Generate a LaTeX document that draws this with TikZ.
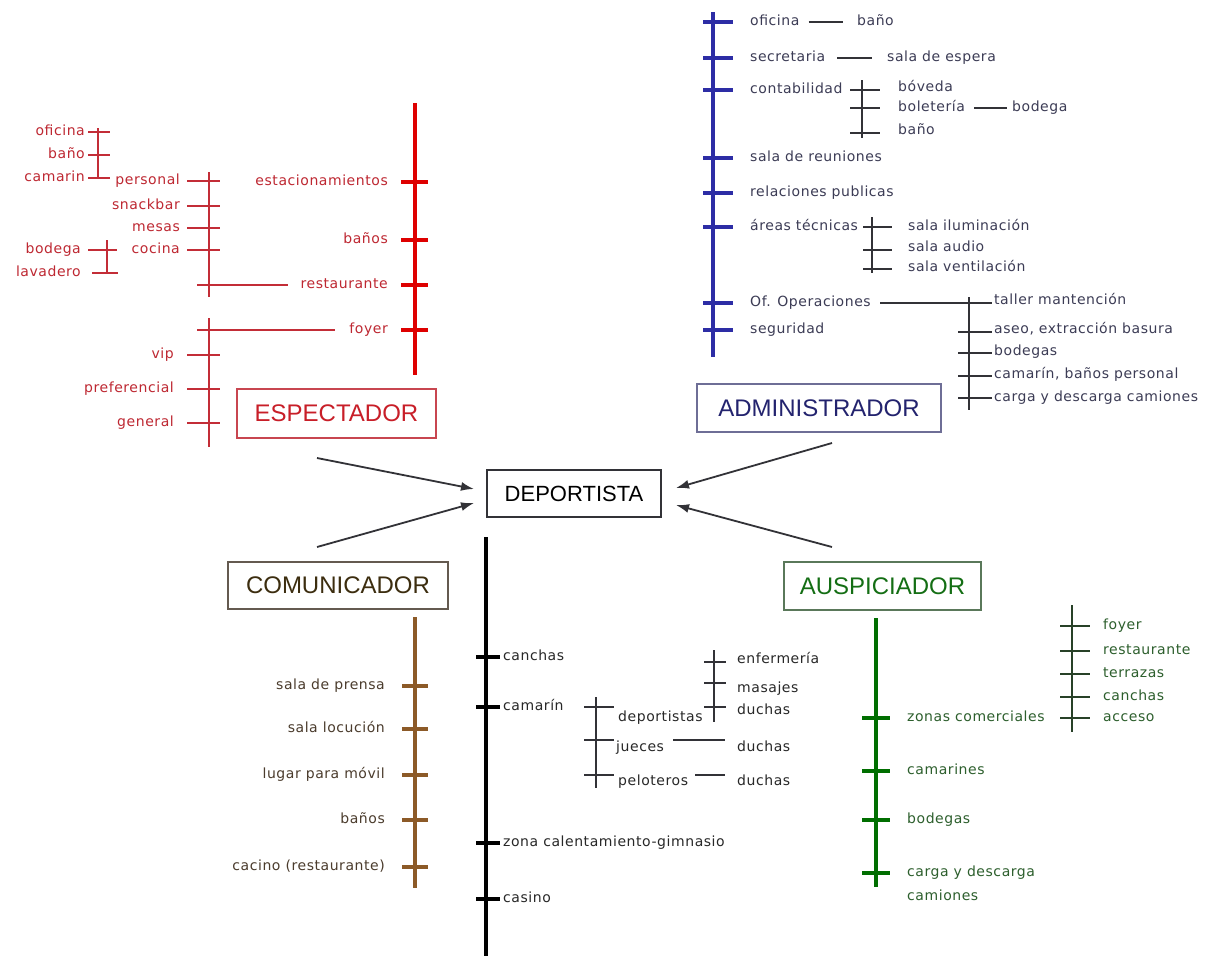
\documentclass[tikz,border=0pt]{standalone}
\usepackage{fontspec}
\newfontfamily\labfont{DejaVu Sans}[LetterSpace=4.0]
\newfontfamily\titfont{Liberation Sans}
\usetikzlibrary{arrows.meta}
\definecolor{redline}{RGB}{222,0,0}
\definecolor{redtext}{RGB}{190,40,50}
\definecolor{redsubc}{RGB}{195,45,55}
\definecolor{espbord}{RGB}{200,70,80}
\definecolor{esptext}{RGB}{200,30,40}
\definecolor{blueline}{RGB}{45,45,165}
\definecolor{bluetext}{RGB}{60,60,85}
\definecolor{admbord}{RGB}{110,110,150}
\definecolor{admtext}{RGB}{35,35,110}
\definecolor{brownline}{RGB}{140,90,40}
\definecolor{browntext}{RGB}{75,60,45}
\definecolor{combord}{RGB}{100,90,80}
\definecolor{comtext}{RGB}{60,45,15}
\definecolor{greenline}{RGB}{0,110,0}
\definecolor{greentext}{RGB}{45,95,45}
\definecolor{greensub}{RGB}{40,65,40}
\definecolor{ausbord}{RGB}{90,120,90}
\definecolor{austext}{RGB}{20,110,20}
\definecolor{deptext}{RGB}{40,40,40}
\definecolor{graysub}{RGB}{50,50,55}
\begin{document}
\begin{tikzpicture}[x=1pt,y=-1pt,
  lab/.style={font=\labfont\fontsize{14}{16}\selectfont, inner sep=0pt, text height=7.7pt, text depth=0pt},
  le/.style={lab, anchor=east}, lw/.style={lab, anchor=west},
  tit/.style={font=\titfont\fontsize{24}{28}\selectfont, draw, line width=1.6pt, inner sep=0pt},
  trunk/.style={line width=4pt},
  tick/.style={line width=3.4pt},
  sub/.style={line width=1.4pt},
  arr/.style={line width=1.8pt, -{Latex[length=13pt,width=9pt]}}
]
\fill[white] (0,0) rectangle (1216,956);
\useasboundingbox (0,0) rectangle (1216,956);

% ================= ESPECTADOR =================
\node[tit, draw=espbord, text=esptext, minimum width=199pt, minimum height=49pt] (esp) at (336.5,413.5) {ESPECTADOR};
\draw[trunk, redline] (415,103) -- (415,375);
\foreach \y in {182,240,285,330} \draw[tick, redline] (401,\y) -- (428,\y);
\begin{scope}[every node/.append style={text=redtext}]
\node[le] (eest) at (388,182) {estacionamientos};
\node[le] (eban) at (388,240) {baños};
\node[le] (eres) at (388,285) {restaurante};
\node[le] (efoy) at (388,330) {foyer};
\node[le] (eper) at (180,181) {personal};
\node[le] (esna) at (180,206) {snackbar};
\node[le] (emes) at (180,228) {mesas};
\node[le] (ecoc) at (180,250) {cocina};
\node[le] (evip) at (174,355) {vip};
\node[le] (epre) at (174,389) {preferencial};
\node[le] (egen) at (174,423) {general};
\node[le] (eofi) at (85,132) {oficina};
\node[le] (ebn2) at (85,155) {baño};
\node[le] (ecam) at (85,178) {camarin};
\node[le] (ebod) at (81,250) {bodega};
\node[le] (elav) at (81,273) {lavadero};
\end{scope}
\begin{scope}[redsubc, sub]
\draw (209,172) -- (209,297);
\foreach \y in {181,206,228,250} \draw (187,\y) -- (220,\y);
\draw (197,285) -- ([xshift=-12pt]eres.west);
\draw (209,318) -- (209,447);
\draw (197,330) -- ([xshift=-14pt]efoy.west);
\foreach \y in {355,389,423} \draw (187,\y) -- (220,\y);
\draw (98,128) -- (98,178);
\foreach \y in {132,155,178} \draw (88,\y) -- (110,\y);
\draw (107,240) -- (107,274);
\draw (88,250) -- (117,250);
\draw (92,273) -- (118,273);
\end{scope}

% ================= ADMINISTRADOR =================
\node[tit, draw=admbord, text=admtext, minimum width=244pt, minimum height=48pt] (adm) at (819,408) {ADMINISTRADOR};
\draw[trunk, blueline] (713,12) -- (713,357);
\foreach \y in {22,58,90,158,193,227,303,330} \draw[tick, blueline] (703,\y) -- (733,\y);
\begin{scope}[every node/.append style={text=bluetext}]
\node[lw] (aofi) at (750,22) {oficina};
\node[lw] (aban) at (857,22) {baño};
\node[lw] (asec) at (750,58) {secretaria};
\node[lw] (aesp) at (887,58) {sala de espera};
\node[lw] (acon) at (750,90) {contabilidad};
\node[lw] (abov) at (898,88) {bóveda};
\node[lw] (abol) at (898,108) {boletería};
\node[lw] (abod) at (1012,108) {bodega};
\node[lw] (abn2) at (898,131) {baño};
\node[lw] (areu) at (750,158) {sala de reuniones};
\node[lw] (arel) at (750,193) {relaciones publicas};
\node[lw] (aare) at (750,227) {áreas técnicas};
\node[lw] (ailu) at (908,227) {sala iluminación};
\node[lw] (aaud) at (908,248) {sala audio};
\node[lw] (aven) at (908,268) {sala ventilación};
\node[lw] (aope) at (750,303) {Of. Operaciones};
\node[lw] (aseg) at (750,330) {seguridad};
\node[lw] (atal) at (994,301) {taller mantención};
\node[lw] (aase) at (994,330) {aseo, extracción basura};
\node[lw] (abgs) at (994,352) {bodegas};
\node[lw] (acmr) at (994,375) {camarín, baños personal};
\node[lw] (acar) at (994,398) {carga y descarga camiones};
\end{scope}
\begin{scope}[graysub, sub]
\draw[shorten <=9pt, shorten >=14pt] (aofi.east) -- (aban.west);
\draw[shorten <=12pt, shorten >=15pt] (asec.east) -- (aesp.west);
\draw (862,80) -- (862,138);
\foreach \y in {90,108,133} \draw (850,\y) -- (880,\y);
\draw[shorten <=9pt, shorten >=5pt] (abol.east) -- (abod.west);
\draw (872,217) -- (872,273);
\foreach \y in {227,250,269} \draw (863,\y) -- (892,\y);
\draw (880,303) -- (992,303);
\draw (969,297) -- (969,410);
\foreach \y in {332,353,376,398} \draw (958,\y) -- (992,\y);
\end{scope}

% ================= DEPORTISTA =================
\node[tit, draw=graysub, line width=1.3pt, text=black, font=\titfont\fontsize{22}{26}\selectfont, minimum width=174pt, minimum height=47pt] (dep) at (574,493.5) {DEPORTISTA};
\draw[trunk, black] (486,537) -- (486,956);
\foreach \y in {657,707,843,899} \draw[tick, black] (476,\y) -- (500,\y);
\begin{scope}[every node/.append style={text=deptext}]
\node[lw] (dcan) at (503,657) {canchas};
\node[lw] (dcam) at (503,707) {camarín};
\node[lw] (dzon) at (503,843) {zona calentamiento-gimnasio};
\node[lw] (dcas) at (503,899) {casino};
\node[lw] (ddep) at (618,718) {deportistas};
\node[lw] (djue) at (616,748) {jueces};
\node[lw] (dpel) at (618,782) {peloteros};
\node[lw] (denf) at (737,660) {enfermería};
\node[lw] (dmas) at (737,689) {masajes};
\node[lw] (ddu1) at (737,711) {duchas};
\node[lw] (ddu2) at (737,748) {duchas};
\node[lw] (ddu3) at (737,782) {duchas};
\end{scope}
\begin{scope}[graysub, sub]
\draw (596,697) -- (596,788);
\foreach \y in {707,740,775} \draw (584,\y) -- (614,\y);
\draw (673,740) -- (725,740);
\draw (695,775) -- (725,775);
\draw (714,650) -- (714,722);
\foreach \y in {662,683,707} \draw (704,\y) -- (726,\y);
\end{scope}

% ================= COMUNICADOR =================
\node[tit, draw=combord, text=comtext, minimum width=220pt, minimum height=47pt] (com) at (338,585.5) {COMUNICADOR};
\draw[trunk, brownline] (415,617) -- (415,888);
\foreach \y in {686,729,775,820,867} \draw[tick, brownline] (402,\y) -- (428,\y);
\begin{scope}[every node/.append style={text=browntext}]
\node[le] (cpre) at (385,686) {sala de prensa};
\node[le] (cloc) at (385,729) {sala locución};
\node[le] (cmov) at (385,775) {lugar para móvil};
\node[le] (cban) at (385,820) {baños};
\node[le] (ccac) at (385,867) {cacino (restaurante)};
\end{scope}

% ================= AUSPICIADOR =================
\node[tit, draw=ausbord, text=austext, minimum width=197pt, minimum height=48pt] (aus) at (882.5,586) {AUSPICIADOR};
\draw[trunk, greenline] (876,618) -- (876,887);
\foreach \y in {718,771,820,873} \draw[tick, greenline] (862,\y) -- (890,\y);
\begin{scope}[every node/.append style={text=greentext}]
\node[lw] (gzon) at (907,718) {zonas comerciales};
\node[lw] (gcam) at (907,771) {camarines};
\node[lw] (gbod) at (907,820) {bodegas};
\node[lw] (gcar) at (907,873) {carga y descarga};
\node[lw] (gcmn) at (907,897) {camiones};
\node[lw] (gfoy) at (1103,626) {foyer};
\node[lw] (gres) at (1103,651) {restaurante};
\node[lw] (gter) at (1103,674) {terrazas};
\node[lw] (gcan) at (1103,697) {canchas};
\node[lw] (gacc) at (1103,718) {acceso};
\end{scope}
\begin{scope}[greensub, sub]
\draw (1072,605) -- (1072,732);
\foreach \y in {626,651,674,697,718} \draw (1060,\y) -- (1090,\y);
\end{scope}

% ================= ARROWS =================
\coordinate (s1) at (317,458); \coordinate (t1) at (474,489);
\coordinate (s2) at (317,547); \coordinate (t2) at (474,503);
\coordinate (s3) at (832,443); \coordinate (t3) at (676,488);
\coordinate (s4) at (832,547); \coordinate (t4) at (676,505);
\draw[arr, graysub] (s1) -- (t1);
\draw[arr, graysub] (s2) -- (t2);
\draw[arr, graysub] (s3) -- (t3);
\draw[arr, graysub] (s4) -- (t4);
\end{tikzpicture}
\end{document}
